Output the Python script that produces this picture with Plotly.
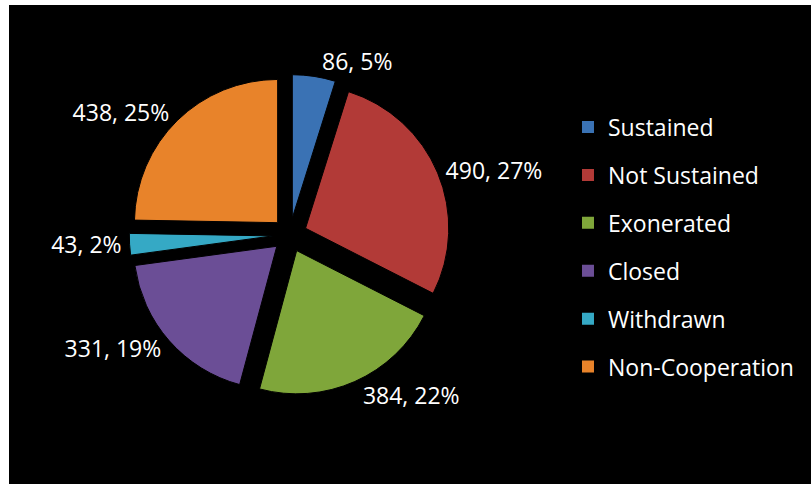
import plotly.graph_objects as go

categories = ["Sustained", "Not Sustained", "Exonerated", "Closed", "Withdrawn", "Non-Cooperation"]
values = [86, 490, 384, 331, 43, 438]
pct_labels = ["5%", "27%", "22%", "19%", "2%", "25%"]
colors = ["#3A72B4", "#B23A37", "#7FA63A", "#6B4E96", "#35A9C5", "#E8832A"]

FONT = "Open Sans"
labels_text = [f"{v}, {p}" for v, p in zip(values, pct_labels)]

fig = go.Figure()
fig.add_trace(go.Pie(
    labels=categories,
    values=values,
    text=labels_text,
    textinfo="text",
    textposition="outside",
    textfont=dict(color="white", size=23, family=FONT),
    marker=dict(colors=colors, line=dict(color="black", width=1)),
    sort=False,
    direction="clockwise",
    rotation=0,
    pull=[0.12] * len(values),
    showlegend=False,
    hoverinfo="label+value",
    domain=dict(x=[0.15, 0.55], y=[0.18, 0.86]),
))

for i, (c, col) in enumerate(zip(categories, colors)):
    fig.add_trace(go.Scatter(
        x=[None], y=[None], mode="markers", name=c,
        marker=dict(symbol="square", size=13, color=col),
        legendgroup=f"g{i}", showlegend=True,
    ))

fig.update_layout(
    width=811, height=484,
    paper_bgcolor="white",
    plot_bgcolor="black",
    margin=dict(l=9, r=0, t=5, b=0),
    xaxis=dict(visible=False),
    yaxis=dict(visible=False),
    shapes=[dict(type="rect", xref="paper", yref="paper", x0=0, x1=1, y0=0, y1=1,
                 fillcolor="black", line=dict(width=0), layer="below")],
    legend=dict(
        x=0.697, y=0.79, xanchor="left", yanchor="top",
        font=dict(color="white", size=23, family=FONT),
        bgcolor="rgba(0,0,0,0)",
        tracegroupgap=15,
        itemsizing="constant",
    ),
    font=dict(family=FONT, color="white"),
)

fig.write_html("out.html")
